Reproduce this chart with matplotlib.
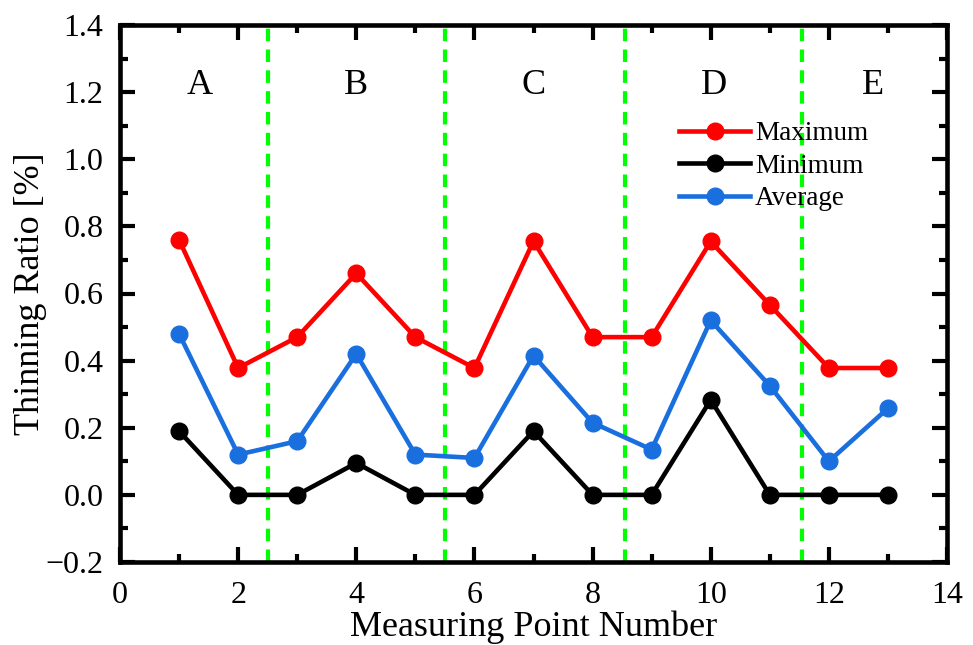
import matplotlib
matplotlib.use("Agg")
import matplotlib.pyplot as plt
from matplotlib.ticker import MultipleLocator

# measuring points and thinning ratios
points = [1, 2, 3, 4, 5, 6, 7, 8, 9, 10, 11, 12, 13]
maximum = [0.76, 0.378, 0.47, 0.66, 0.47, 0.378, 0.756, 0.47, 0.47, 0.755, 0.566, 0.378, 0.378]
minimum = [0.19, 0.0, 0.0, 0.095, 0.0, 0.0, 0.19, 0.0, 0.0, 0.283, 0.0, 0.0, 0.0]
average = [0.48, 0.12, 0.16, 0.42, 0.12, 0.11, 0.415, 0.215, 0.135, 0.52, 0.325, 0.10, 0.258]

# region borders and labels
borders = [2.5, 5.5, 8.55, 11.55]
regions = ["A", "B", "C", "D", "E"]
region_x = [1.35, 4.0, 7.0, 10.05, 12.75]

plt.rcParams['font.family'] = ['Liberation Serif', 'DejaVu Serif']

fig = plt.figure(figsize=(9.73, 6.45), dpi=100)
ax = fig.add_axes([120 / 973, 1 - 562 / 645, 827 / 973, 537 / 645])

for b in borders:
    ax.axvline(b, color='#00ff00', lw=3, ls=(0, (3, 2)), zorder=1)

ax.plot(points, maximum, '-o', color='#ff0000', lw=3.3, ms=12, label='Maximum', zorder=3)
ax.plot(points, minimum, '-o', color='black', lw=3.3, ms=12, label='Minimum', zorder=3)
ax.plot(points, average, '-o', color='#1a6fdf', lw=3.3, ms=12, label='Average', zorder=3)

for x, s in zip(region_x, regions):
    ax.text(x, 1.22, s, fontsize=26, ha='center', va='center')

ax.set_xlim(0, 14)
ax.set_ylim(-0.2, 1.4)
ax.xaxis.set_major_locator(MultipleLocator(2))
ax.xaxis.set_minor_locator(MultipleLocator(1))
ax.yaxis.set_major_locator(MultipleLocator(0.2))
ax.yaxis.set_minor_locator(MultipleLocator(0.1))
ax.yaxis.set_major_formatter(plt.FuncFormatter(lambda v, p: f"{v:.1f}".replace('-', '\u2212')))

ax.tick_params(which='both', direction='in', top=True, right=True, width=3, labelsize=23)
ax.tick_params(which='major', length=11)
ax.tick_params(which='minor', length=6)
ax.tick_params(axis='x', which='major', pad=14)
ax.tick_params(axis='y', which='major', pad=12)
for sp in ax.spines.values():
    sp.set_linewidth(3.3)

ax.set_xlabel('Measuring Point Number', fontsize=26, labelpad=0)
ax.set_ylabel('Thinning Ratio [%]', fontsize=26, labelpad=-1)

ax.legend(loc='upper left', bbox_to_anchor=(0.66, 0.846), frameon=False, fontsize=19.5,
          handlelength=2.6, handletextpad=0.2, labelspacing=0.28, borderpad=0)

fig.savefig('out.png', dpi=100)
